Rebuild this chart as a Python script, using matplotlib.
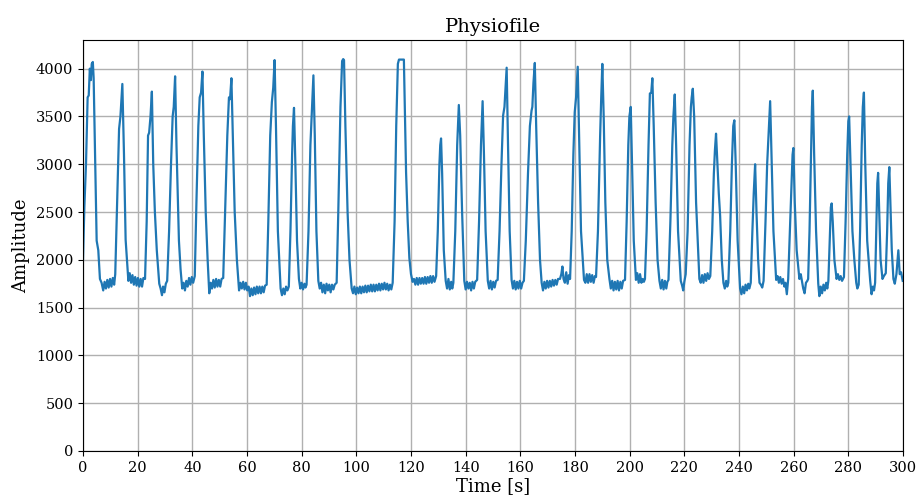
import matplotlib
matplotlib.use("Agg")
import matplotlib.pyplot as plt

plt.rcParams['font.family'] = ['DejaVu Serif']

# signal (time in s, amplitude)
t_s = [
    0, 0.5, 1.1, 1.7, 2.1, 2.5, 2.9, 3.2, 3.6, 3.9, 4.3, 5.0, 5.6, 6.2, 6.8, 7.4, 7.9, 8.4, 8.9, 9.4, 9.9, 10.4, 10.9, 11.4, 11.8,
    12.5, 13.2, 13.7, 14.4, 15.0, 15.6, 16.6, 17.1, 17.6, 18.1, 18.6, 19.1, 19.6, 20.1, 20.6, 21.1, 21.6, 22.1, 22.7,
    23.3, 23.8, 24.2, 24.7, 25.2, 25.7, 26.3, 27.0, 27.9, 28.4, 28.9, 29.3, 29.8, 30.3, 30.8,
    31.5, 32.2, 32.8, 33.2, 33.7, 34.2, 35.1, 35.7, 36.3, 36.8, 37.3, 37.8, 38.3, 38.8, 39.3, 39.8, 40.3, 40.9,
    41.5, 42.2, 42.7, 43.2, 43.7, 44.2, 44.9, 45.6, 46.2, 46.7, 47.2, 47.7, 48.2, 48.7, 49.2, 49.7, 50.2, 50.7, 51.3,
    52.0, 52.8, 53.4, 53.8, 54.3, 54.8, 55.5, 56.3, 57.1, 57.6, 58.1, 58.6, 59.1, 59.6, 60.1, 60.6, 61.1, 61.6, 62.1, 62.6,
    63.1, 63.6, 64.1, 64.6, 65.1, 65.6, 66.1, 66.6, 67.2,
    67.8, 68.5, 69.1, 69.6, 70.1, 70.6, 71.3, 72.3, 72.8, 73.3, 73.8, 74.3, 74.8, 75.3,
    75.9, 76.5, 76.8, 77.2, 77.7, 78.3, 79.0, 79.5, 80.0, 80.5, 81.0, 81.4, 81.8,
    82.5, 83.2, 83.8, 84.3, 84.8, 85.4, 86.1, 86.6, 87.1, 87.6, 88.1, 88.6, 89.1, 89.6, 90.1, 90.6, 91.1, 91.6, 92.1, 92.8,
    93.4, 94.2, 94.8, 95.2, 95.5, 96.0, 96.8, 97.5, 98.3,
    98.8, 99.3, 99.8, 100.3, 100.8, 101.3, 101.8, 102.3, 102.8, 103.3, 103.8, 104.3, 104.8, 105.3, 105.8, 106.3, 106.8,
    107.3, 107.8, 108.3, 108.8, 109.3, 109.8, 110.3, 110.8, 111.3, 111.8, 112.3, 112.8, 113.3,
    114.0, 114.6, 115.2, 115.6, 117.4, 117.8, 118.2, 118.8, 119.4, 120.0, 120.6,
    121.1, 121.6, 122.1, 122.6, 123.1, 123.6, 124.1, 124.6, 125.1, 125.6, 126.1, 126.6, 127.1, 127.6, 128.1, 128.6, 129.2,
    129.8, 130.4, 130.7, 131.0, 131.4, 132.0, 132.7, 133.2, 133.7, 134.2, 134.7, 135.1, 135.5,
    136.2, 136.9, 137.5, 138.0, 138.7, 139.5, 140.0, 140.5, 141.0, 141.5, 142.0, 142.5, 143.0, 143.5, 144.2,
    144.9, 145.6, 146.2, 146.7, 147.3, 148.1, 148.6, 149.1, 149.6, 150.1, 150.6, 151.1, 151.7,
    152.4, 153.1, 153.7, 154.2, 155.0, 155.5, 156.1, 156.8, 157.3, 157.8, 158.3, 158.8, 159.3, 159.8, 160.3, 160.8, 161.3,
    162.0, 162.8, 163.5, 164.1, 164.4, 164.8, 165.3, 165.8, 166.5, 167.2, 167.8, 168.3, 168.8, 169.3, 169.8, 170.3, 170.8,
    171.3, 171.8, 172.3, 172.8, 173.3, 173.8, 174.5, 175.0, 175.4, 175.8, 176.3, 176.8, 177.3, 177.8, 178.2,
    178.8, 179.4, 179.9, 180.4, 181.0, 181.5, 182.2, 183.3, 183.8, 184.3, 184.8, 185.3, 185.8, 186.3, 186.8, 187.3, 187.7,
    188.4, 189.2, 189.6, 190.0, 190.5, 191.1, 191.8, 192.6, 193.1, 193.6, 194.1, 194.6, 195.1, 195.6, 196.1, 196.6, 197.1, 197.6, 198.3,
    198.9, 199.5, 199.9, 200.4, 200.8, 201.5, 202.3, 202.8, 203.3, 203.8, 204.3, 204.8, 205.2, 205.6,
    206.2, 206.9, 207.4, 207.9, 208.3, 208.8, 209.5, 210.2, 210.9, 211.4, 211.9, 212.4, 212.9, 213.4, 213.8, 214.2,
    214.9, 215.6, 216.0, 216.5, 217.0, 217.7, 218.7, 219.2, 219.6, 220.0, 220.5,
    221.2, 221.9, 222.4, 222.7, 223.1, 223.6, 224.3, 225.5, 226.0, 226.5, 227.0, 227.5, 228.0, 228.5, 229.0, 229.5,
    230.2, 230.8, 231.2, 231.6, 232.1, 232.6, 233.1, 233.7, 234.3, 234.8, 235.3, 235.7, 236.1,
    236.8, 237.4, 237.9, 238.3, 238.8, 239.5, 240.4, 240.9, 241.4, 241.9, 242.4, 242.9, 243.4, 243.8, 244.3,
    244.9, 245.4, 245.9, 246.4, 247.0, 247.5, 248.0, 248.5, 249.0,
    249.7, 250.3, 250.8, 251.4, 251.9, 252.6, 253.6, 254.1, 254.6, 255.1, 255.6, 256.1, 256.6, 257.0, 257.5, 258.0,
    258.6, 259.2, 259.6, 259.9, 260.4, 261.1, 262.1, 262.6, 263.1, 263.5, 264.0, 264.5, 265.0, 265.3,
    265.8, 266.3, 266.7, 267.0, 267.5, 268.2, 269.0, 269.4, 269.9, 270.4, 270.9, 271.4, 271.9, 272.3, 272.7,
    273.2, 273.6, 273.9, 274.3, 274.9, 275.7, 276.2, 276.7, 277.2, 277.7, 278.4,
    279.0, 279.6, 280.0, 280.3, 280.8, 281.5, 282.2, 282.9, 283.3, 283.8,
    284.3, 284.9, 285.3, 285.7, 286.2, 286.9, 288.0, 288.5, 289.0, 289.4, 289.8,
    290.3, 290.6, 290.9, 291.3, 291.8, 292.5, 293.0, 293.7,
    294.2, 294.6, 295.0, 295.4, 295.9, 296.5, 297.0, 297.6, 298.3, 298.8, 299.3, 299.9,
]
amp = [
    2000, 2550, 3000, 3700, 3720, 4000, 3880, 4050, 4070, 3900, 3300, 2200, 2100, 1800, 1760, 1680, 1770, 1700, 1790, 1710, 1800, 1720, 1810, 1740, 1850,
    2600, 3370, 3500, 3840, 3100, 2210, 1780, 1860, 1760, 1840, 1740, 1820, 1730, 1810, 1720, 1800, 1720, 1810, 1800,
    2400, 3300, 3330, 3500, 3760, 3000, 2500, 2100, 1750, 1700, 1630, 1720, 1660, 1750, 1780,
    2300, 3000, 3500, 3600, 3920, 3200, 2200, 1900, 1700, 1760, 1680, 1780, 1720, 1810, 1740, 1820, 1760, 1830,
    2600, 3400, 3700, 3750, 3970, 3300, 2500, 2000, 1650, 1760, 1700, 1790, 1710, 1800, 1720, 1790, 1720, 1800, 1810,
    2500, 3300, 3700, 3680, 3900, 3300, 2500, 2000, 1680, 1760, 1700, 1770, 1690, 1760, 1680, 1720, 1620, 1700, 1630, 1710,
    1640, 1720, 1650, 1720, 1650, 1720, 1660, 1730, 1740,
    2400, 3300, 3650, 3800, 4090, 3400, 2300, 1700, 1630, 1700, 1640, 1720, 1680, 1720,
    2300, 3100, 3400, 3590, 3000, 2200, 1800, 1700, 1760, 1690, 1750, 1710, 1740,
    2300, 3200, 3600, 3930, 3300, 2300, 1780, 1700, 1760, 1660, 1740, 1650, 1750, 1680, 1740, 1660, 1740, 1690, 1740, 1760,
    2500, 3600, 4080, 4100, 4090, 3400, 2500, 2000, 1700,
    1650, 1720, 1640, 1710, 1650, 1720, 1650, 1720, 1660, 1730, 1660, 1730, 1670, 1740, 1670, 1740, 1670,
    1740, 1680, 1750, 1680, 1750, 1690, 1760, 1690, 1750, 1680, 1740, 1690, 1760,
    2400, 3400, 4050, 4095, 4095, 3500, 2917, 2400, 2020, 1850, 1770,
    1800, 1740, 1810, 1740, 1810, 1750, 1810, 1750, 1820, 1750, 1820, 1760, 1830, 1760, 1830, 1770, 1830,
    2300, 3000, 3200, 3270, 2900, 2100, 1780, 1700, 1800, 1690, 1770, 1700, 1760,
    2300, 3200, 3620, 3300, 2500, 1780, 1690, 1770, 1700, 1760, 1680, 1770, 1700, 1770, 1790,
    2400, 3200, 3660, 3100, 2300, 1780, 1700, 1780, 1690, 1770, 1710, 1780, 1790,
    2300, 3000, 3510, 3600, 4010, 3200, 2300, 1790, 1700, 1780, 1690, 1770, 1700, 1780, 1700, 1760, 1780,
    2200, 2900, 3400, 3560, 3600, 3850, 4060, 3400, 2600, 2000, 1760, 1680, 1770, 1700, 1780, 1710, 1780,
    1720, 1790, 1730, 1790, 1740, 1800, 1800, 1850, 1930, 1800, 1760, 1870, 1750, 1840, 1800,
    2300, 3100, 3545, 3700, 4020, 3300, 2300, 1790, 1760, 1850, 1760, 1850, 1770, 1840, 1760, 1830, 1820,
    2300, 3300, 3700, 4050, 3500, 2600, 2000, 1800, 1700, 1780, 1680, 1770, 1690, 1780, 1680, 1770, 1700, 1780, 1790,
    2400, 3200, 3500, 3600, 3100, 2200, 1790, 1860, 1760, 1850, 1760, 1800, 1770, 1800,
    2300, 3200, 3740, 3750, 3900, 3400, 2600, 2000, 1780, 1700, 1790, 1690, 1780, 1700, 1770, 1790,
    2400, 3200, 3500, 3730, 3200, 2300, 1780, 1730, 1680, 1770, 1850,
    2300, 3200, 3600, 3700, 3790, 3500, 2600, 1800, 1760, 1840, 1760, 1850, 1780, 1860, 1800, 1830,
    2300, 2900, 3150, 3320, 3000, 2700, 2460, 2000, 1760, 1700, 1780, 1720, 1760,
    2300, 3000, 3400, 3460, 3000, 2200, 1700, 1640, 1720, 1650, 1740, 1680, 1750, 1700, 1760,
    2300, 2700, 3000, 2500, 2000, 1760, 1740, 1710, 1780,
    2400, 3000, 3300, 3660, 3100, 2300, 1790, 1830, 1760, 1820, 1750, 1800, 1720, 1760, 1640, 1800,
    2300, 2800, 3100, 3170, 2600, 2100, 1800, 1850, 1770, 1700, 1650, 1760, 1780, 1800,
    2300, 3000, 3600, 3770, 3100, 2300, 1750, 1620, 1720, 1650, 1740, 1680, 1760, 1700, 1780,
    2200, 2550, 2590, 2400, 2000, 1800, 1850, 1790, 1830, 1780, 1820,
    2400, 3100, 3450, 3500, 3000, 2300, 2000, 1760, 1700, 1740,
    2300, 3200, 3600, 3750, 3000, 2200, 1780, 1640, 1720, 1680, 1760,
    2400, 2800, 2910, 2500, 2000, 1800, 1830, 1860,
    2300, 2800, 2970, 2600, 2100, 1800, 1750, 1850, 2100, 1850, 1870, 1780,
]

fig = plt.figure(figsize=(9.16, 4.98), dpi=100)
ax = fig.add_axes([0.0906, 0.0944, 0.8952, 0.8253])
ax.plot(t_s, amp, color='#1f77b4', linewidth=1.6)
ax.set_xlim(0, 300)
ax.set_ylim(0, 4300)
ax.set_xticks(range(0, 301, 20))
ax.set_yticks(range(0, 4001, 500))
ax.grid(True, color='#b0b0b0', linewidth=1.0)
ax.tick_params(labelsize=10.5)
ax.set_title("Physiofile", fontsize=14)
ax.set_xlabel("Time [s]", fontsize=13, labelpad=2)
ax.set_ylabel("Amplitude", fontsize=13)

fig.savefig("out.png", dpi=100)
